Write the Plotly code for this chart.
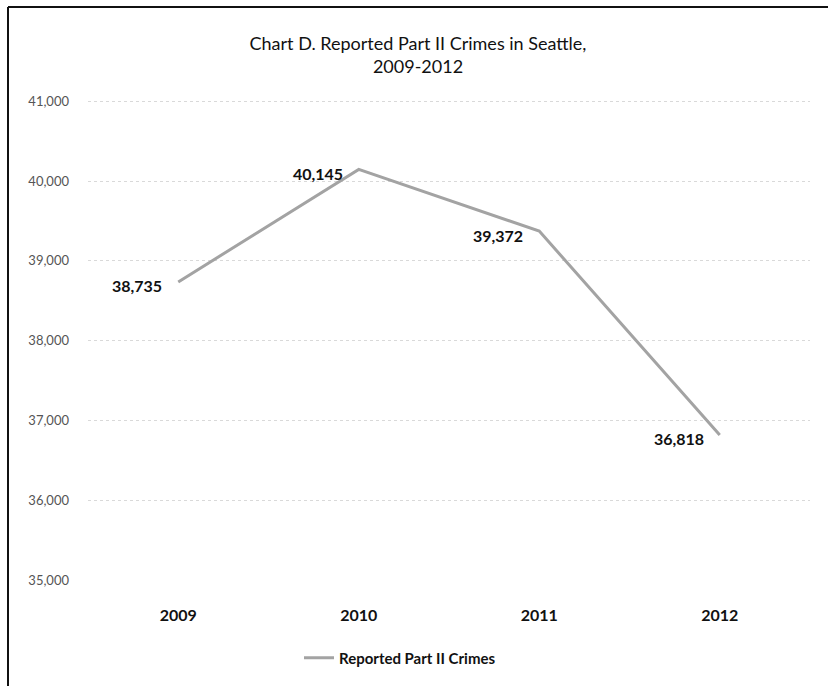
import plotly.graph_objects as go

years = ["2009", "2010", "2011", "2012"]
crimes = [38735, 40145, 39372, 36818]
label_text = ["38,735", "40,145", "39,372", "36,818"]
series_name = "Reported Part II Crimes"
y_ticks = [35000, 36000, 37000, 38000, 39000, 40000, 41000]

W, H = 828, 686
L, R, T, B = 88, 18, 100, 106
pw, ph = W - L - R, H - T - B

def px_x(p):
    return (p - L) / pw

def px_y(p):
    return (H - B - p) / ph

fig = go.Figure()
fig.add_trace(go.Scatter(
    x=years, y=crimes, mode="lines", name=series_name,
    line=dict(color="#a3a3a3", width=3),
    cliponaxis=False,
))

# data labels, placed at each category index, to the left of the point
for i, (val, txt) in enumerate(zip(crimes, label_text)):
    fig.add_annotation(x=i, y=val, xref="x", yref="y", text=txt, showarrow=False,
                       xanchor="right", yanchor="middle", xshift=-14, yshift=-4,
                       font=dict(family="Lato", size=16, color="#111111", weight="bold"))

fig.update_layout(
    width=W, height=H,
    margin=dict(l=L, r=R, t=T, b=B),
    paper_bgcolor="white", plot_bgcolor="white",
    title=dict(text="Chart D. Reported Part II Crimes in Seattle,<br>2009-2012",
               x=418 / W, xanchor="center", y=1 - 50 / H, yanchor="middle",
               font=dict(family="Lato", size=18, color="#111111")),
    font=dict(family="Lato"),
    showlegend=True,
    legend=dict(orientation="h", x=px_x(400), xanchor="center", y=px_y(658), yanchor="middle",
                font=dict(family="Lato", size=15, color="#111111", weight="bold"),
                itemwidth=30),
    xaxis=dict(type="category", range=[-0.5, 3.5], showgrid=False, showline=False,
               ticks="", zeroline=False,
               tickfont=dict(family="Lato", size=16, color="#111111", weight="bold"),
               ticklabelstandoff=24),
    yaxis=dict(range=[35000, 41015], tickvals=y_ticks, tickformat=",",
               showgrid=True, gridcolor="#d9d9d9", griddash="dot", gridwidth=1,
               showline=False, zeroline=False, ticks="",
               tickfont=dict(family="Lato", size=13, color="#555555"),
               ticklabelstandoff=18),
)

# outer frame (top and left edges of the scanned chart box)
fig.add_shape(type="line", xref="paper", yref="paper",
              x0=px_x(8), x1=px_x(W), y0=px_y(7), y1=px_y(7),
              line=dict(color="#111111", width=2))
fig.add_shape(type="line", xref="paper", yref="paper",
              x0=px_x(8), x1=px_x(8), y0=px_y(7), y1=px_y(H),
              line=dict(color="#111111", width=2))

fig.write_html("out.html")
